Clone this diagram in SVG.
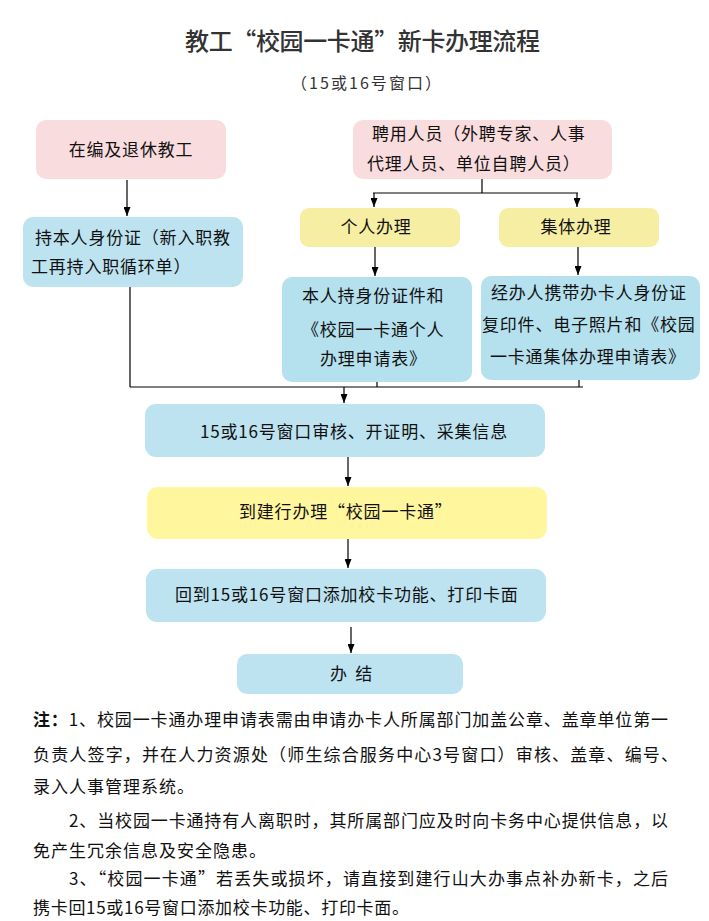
<svg xmlns="http://www.w3.org/2000/svg" width="709" height="921" viewBox="0 0 709 921">
<style>
  text { font-family: "Noto Sans CJK SC", "Noto Sans", sans-serif; fill: #111; }
  .t { font-size: 17px; letter-spacing: 0.8px; }
  .mid { text-anchor: middle; }
  .title { font-size: 24px; fill: #333; font-weight: 500; }
  .sub { font-size: 16px; fill: #333; }
  .note { font-size: 17px; }
  .pink { fill: #f9dcde; }
  .blue { fill: #bde3f0; }
  .blue2 { fill: #b5e0ee; }
  .yel { fill: #f6eea2; }
  .yel2 { fill: #fff69e; }
  .ln { stroke: #000; stroke-width: 1.2; fill: none; }
  .arr { marker-end: url(#ah); }
</style>
<defs>
  <marker id="ah" viewBox="0 0 10 10" refX="10" refY="5" markerWidth="9" markerHeight="7" markerUnits="userSpaceOnUse" orient="auto" preserveAspectRatio="none">
    <path d="M0,0 L10,5 L0,10 z" fill="#000"/>
  </marker>
</defs>
<rect width="709" height="921" fill="#fff"/>

<g id="title">
  <text class="title" x="185" y="50" textLength="355" lengthAdjust="spacing">教工“校园一卡通”新卡办理流程</text>
  <text class="sub" x="291" y="89" textLength="150" lengthAdjust="spacing">（15或16号窗口）</text>
</g>

<g id="connectors">
  <path class="ln arr" d="M127,180 V216"/>
  <path class="ln" d="M482,179 V193 M373,193 H578"/>
  <path class="ln arr" d="M374,193 V207"/>
  <path class="ln arr" d="M577,193 V207"/>
  <path class="ln arr" d="M375,247 V276"/>
  <path class="ln arr" d="M578,247 V275"/>
  <path class="ln" d="M130,287 V387 M377,382 V387 M579,380 V387 M130,387 H583"/>
  <path class="ln arr" d="M344,387 V403"/>
  <path class="ln arr" d="M348,457 V486"/>
  <path class="ln arr" d="M348,539 V568"/>
  <path class="ln arr" d="M351,627 V653"/>
</g>

<g id="n-zaibian">
  <rect class="pink" x="36" y="120" width="190" height="59" rx="10"/>
  <text class="t mid" x="131" y="156">在编及退休教工</text>
</g>
<g id="n-pinyong">
  <rect class="pink" x="353" y="120" width="259" height="59" rx="10"/>
  <text class="t" x="372" y="140">聘用人员（外聘专家、人事</text>
  <text class="t" x="367" y="170">代理人员、单位自聘人员）</text>
</g>
<g id="n-chibenren">
  <rect class="blue" x="23" y="217" width="220" height="70" rx="10"/>
  <text class="t" x="35" y="244">持本人身份证（新入职教</text>
  <text class="t" x="31" y="273">工再持入职循环单）</text>
</g>
<g id="n-geren">
  <rect class="yel" x="300" y="208" width="160" height="39" rx="9"/>
  <text class="t mid" x="376" y="233">个人办理</text>
</g>
<g id="n-jiti">
  <rect class="yel" x="499" y="208" width="160" height="39" rx="9"/>
  <text class="t mid" x="576" y="233">集体办理</text>
</g>
<g id="n-geren-doc">
  <rect class="blue2" x="282" y="277" width="190" height="105" rx="10"/>
  <text class="t" x="302" y="302">本人持身份证件和</text>
  <text class="t" x="302" y="336">《校园一卡通个人</text>
  <text class="t" x="320" y="365">办理申请表》</text>
</g>
<g id="n-jiti-doc">
  <rect class="blue2" x="481" y="276" width="219" height="104" rx="10"/>
  <text class="t" x="491" y="299">经办人携带办卡人身份证</text>
  <text class="t" x="482" y="331">复印件、电子照片和《校园</text>
  <text class="t" x="490" y="363">一卡通集体办理申请表》</text>
</g>
<g id="n-shenhe">
  <rect class="blue" x="145" y="404" width="400" height="53" rx="11"/>
  <text class="t mid" x="354" y="438">15或16号窗口审核、开证明、采集信息</text>
</g>
<g id="n-jianhang">
  <rect class="yel2" x="147" y="487" width="400" height="52" rx="11"/>
  <text class="t" x="239" y="518">到建行办理“校园一卡通”</text>
</g>
<g id="n-huidao">
  <rect class="blue" x="146" y="569" width="400" height="53" rx="11"/>
  <text class="t" x="175" y="601">回到15或16号窗口添加校卡功能、打印卡面</text>
</g>
<g id="n-banjie">
  <rect class="blue" x="237" y="654" width="226" height="40" rx="10"/>
  <text class="t" x="330" y="680" textLength="43" lengthAdjust="spacing">办 结</text>
</g>

<g id="notes">
  <text class="note" x="33" y="726" textLength="635" lengthAdjust="spacing"><tspan font-weight="bold">注：</tspan>1、校园一卡通办理申请表需由申请办卡人所属部门加盖公章、盖章单位第一</text>
  <text class="note" x="33" y="761" textLength="645" lengthAdjust="spacing">负责人签字，并在人力资源处（师生综合服务中心3号窗口）审核、盖章、编号、</text>
  <text class="note" x="33" y="793" textLength="161" lengthAdjust="spacing">录入人事管理系统。</text>
  <text class="note" x="69" y="827" textLength="599" lengthAdjust="spacing">2、当校园一卡通持有人离职时，其所属部门应及时向卡务中心提供信息，以</text>
  <text class="note" x="33" y="857" textLength="233" lengthAdjust="spacing">免产生冗余信息及安全隐患。</text>
  <text class="note" x="69" y="885" textLength="599" lengthAdjust="spacing">3、“校园一卡通”若丢失或损坏，请直接到建行山大办事点补办新卡，之后</text>
  <text class="note" x="33" y="914" textLength="376" lengthAdjust="spacing">携卡回15或16号窗口添加校卡功能、打印卡面。</text>
</g>
</svg>
